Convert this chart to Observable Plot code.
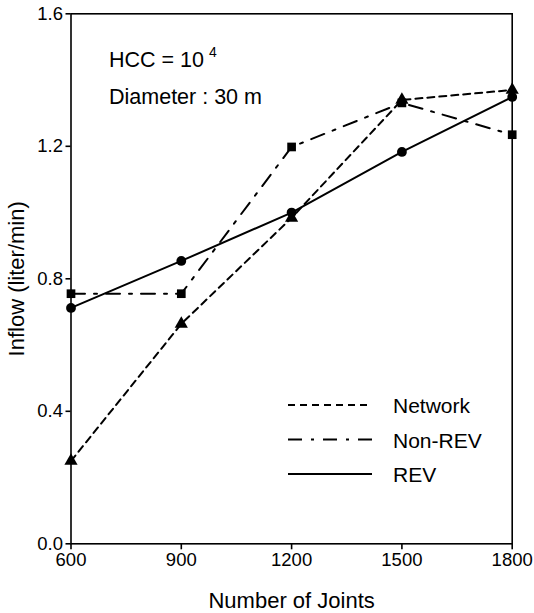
<!DOCTYPE html>
<html><head><meta charset="utf-8">
<script src="https://cdn.jsdelivr.net/npm/d3@7"></script>
<script src="https://cdn.jsdelivr.net/npm/@observablehq/plot@0.6"></script>
<style>body{margin:0;background:#fff} #chart{width:534px;height:613px}</style>
</head><body><div id="chart"></div>
<script>
// ---- data ----
const joints = [600, 900, 1200, 1500, 1800];
const networkInflow = [0.25, 0.664, 0.984, 1.34, 1.37];
const nonRevInflow = [0.755, 0.755, 1.198, 1.331, 1.235];
const revInflow = [0.712, 0.854, 1.0, 1.183, 1.349];
const xTicks = [600, 900, 1200, 1500, 1800];
const yTicks = [0, 0.4, 0.8, 1.2, 1.6];
const seriesNames = ["Network", "Non-REV", "REV"];
const seriesSymbols = ["triangle", "square", "circle"];
const seriesDash = ["7,5", "14,9,3,9", null];
const seriesValues = [networkInflow, nonRevInflow, revInflow];

const FONT = "'Liberation Sans', Arial, Helvetica, sans-serif";

const rows = [];
seriesNames.forEach((name, i) => {
  joints.forEach((j, k) => rows.push({series: name, joints: j, inflow: seriesValues[i][k]}));
});

const marks = [];
// draw order: Non-REV, Network, REV
[1, 0, 2].forEach(i => {
  const d = rows.filter(r => r.series === seriesNames[i]);
  marks.push(Plot.line(d, {x: "joints", y: "inflow", stroke: "black", strokeWidth: 2,
    strokeDasharray: seriesDash[i] || undefined}));
  marks.push(Plot.dot(d, {x: "joints", y: "inflow", fill: "black", stroke: "none",
    symbol: () => seriesSymbols[i], r: 4.9}));
});

const chart = Plot.plot({
  width: 534,
  height: 613,
  marginLeft: 70.5,
  marginRight: 22.3,
  marginTop: 13.3,
  marginBottom: 69.7,
  style: {fontFamily: FONT, fontSize: "18px", color: "black", background: "white", overflow: "visible"},
  x: {domain: [600, 1800]},
  y: {domain: [0, 1.6]},
  symbol: {type: "identity"},
  marks: [
    Plot.frame({stroke: "black", strokeWidth: 1.6}),
    Plot.axisX({ticks: xTicks, tickSize: 6, tickPadding: 3, tickFormat: d => String(d),
      strokeWidth: 1.6, label: "Number of Joints", labelAnchor: "center", labelArrow: "none",
      labelOffset: 64}),
    Plot.axisY({ticks: yTicks, tickSize: 5, tickPadding: 3, tickFormat: d3.format(".1f"),
      strokeWidth: 1.6, label: "Inflow (liter/min)", labelAnchor: "center", labelArrow: "none",
      labelOffset: 63}),
    ...marks
  ]
});

document.getElementById("chart").appendChild(chart);

const svg = d3.select(chart.tagName.toLowerCase() === "svg" ? chart : chart.querySelector("svg"));
svg.selectAll("g[aria-label='x-axis tick label'] text, g[aria-label='y-axis tick label'] text")
  .style("font-size", "18.5px");
svg.selectAll("g[aria-label='x-axis label'] text, g[aria-label='y-axis label'] text")
  .style("font-size", "22px");

// annotations
const ann = svg.append("g").attr("font-family", FONT).attr("fill", "black").attr("text-anchor", "start");
const t1 = ann.append("text").attr("x", 109).attr("y", 67).attr("font-size", 21.5).text("HCC = 10");
t1.append("tspan").attr("dx", 5).attr("dy", -10).attr("font-size", 14).text("4");
ann.append("text").attr("x", 109).attr("y", 104).attr("font-size", 21.5).text("Diameter : 30 m");

// legend
const leg = svg.append("g").attr("font-family", FONT).attr("text-anchor", "start");
seriesNames.forEach((name, i) => {
  const y = 405 + i * 34.5;
  leg.append("line").attr("x1", 288).attr("x2", 372).attr("y1", y).attr("y2", y)
    .attr("stroke", "black").attr("stroke-width", 2)
    .attr("stroke-dasharray", seriesDash[i]);
  leg.append("text").attr("x", 393).attr("y", y + 8).attr("font-size", 21)
    .attr("fill", "black").text(name);
});
</script></body></html>
